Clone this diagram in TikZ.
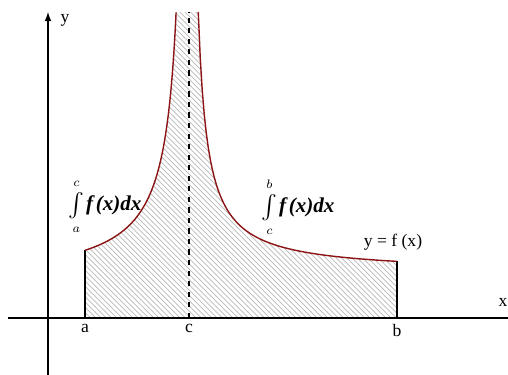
\documentclass[tikz,border=0pt]{standalone}
\usepackage{fontspec}
\setmainfont{Liberation Serif}
\usetikzlibrary{patterns}
\definecolor{curvered}{RGB}{140,20,20}
\newcommand{\intlab}[2]{$\mathop{\vcenter{\hbox{\scalebox{1.35}{$\int$}}}}\limits_{\hbox{\lower1.5pt\hbox{$\scriptstyle #1$}}}^{\hbox{\raise1.5pt\hbox{$\scriptstyle #2$}}}$\kern1pt{\fontsize{12}{14}\selectfont\bfseries\itshape f\kern1.5pt(x)dx}}
\begin{document}
\begin{tikzpicture}[x=0.02cm, y=0.02cm, font=\fontsize{10}{12}\selectfont, line join=round, >=latex, declare function={fl(\x)=3505/(141-\x)+34; fr(\x)=2418/(\x-141)+45;}]
	\useasboundingbox (-48,-57) rectangle (460,318);
	\fill[pattern=north west lines, pattern color=gray!55] (37,0)--plot[domain=37:128.1,samples=100] (\x,{fl(\x)})--(150.26,306)--plot[domain=150.26:349,samples=100] (\x,{fr(\x)})--(349,0)--cycle;
	\draw[thick] (-40,0)--(460,0);
	\draw[thick,->] (0,-57)--(0,306);
	\node (ylab) at (17,298) {y};
	\node (xlab) at (455,16) {x};
	\coordinate (a) at (37,0);
	\coordinate (c) at (141,0);
	\coordinate (b) at (349,0);
	\coordinate (fa) at (37,{fl(37)});
	\coordinate (fb) at (349,{fr(349)});
	\coordinate (ctop) at (141,306);
	\draw[thick] (a)--(fa);
	\draw[thick] (b)--(fb);
	\draw[thick,dashed] (c)--(ctop);
	\draw[curvered,thick] plot[domain=37:128.1,samples=100] (\x,{fl(\x)});
	\draw[curvered,thick] plot[domain=150.26:349,samples=100] (\x,{fr(\x)});
	\node[below] (alab) at (a) {a};
	\node[below] (clab) at (c) {c};
	\node[below] (blab) at (b) {b};
	\node (intac) at (57,111) {\intlab{a}{c}};
	\node (intcb) at (250,111) {\intlab{c}{b}};
	\node (flab) at (345,76) {y = f (x)};
\end{tikzpicture}
\end{document}
